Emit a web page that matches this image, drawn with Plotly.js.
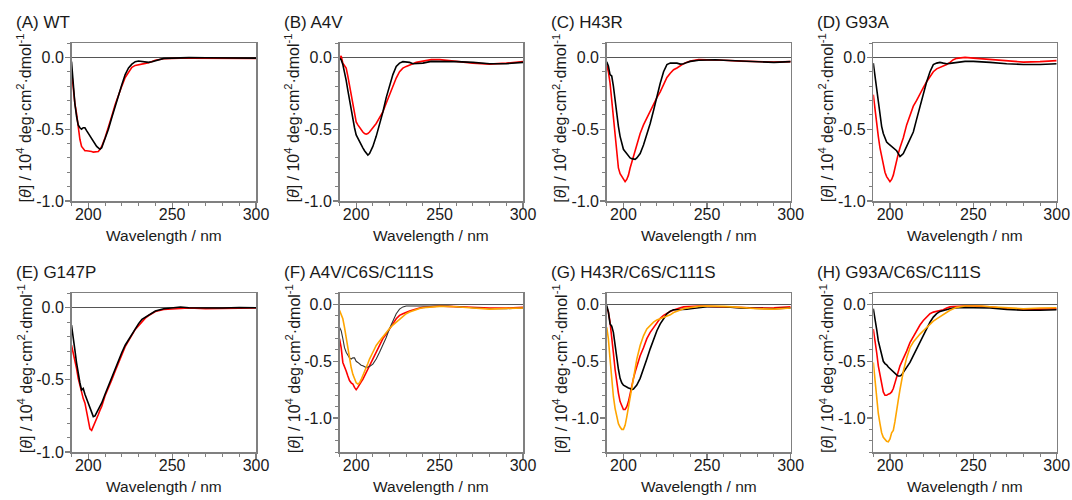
<!DOCTYPE html>
<html>
<head>
<meta charset="utf-8">
<script src="https://cdn.plot.ly/plotly-3.0.1.min.js"></script>
<style>html,body{margin:0;padding:0;background:#fff;}#chart{width:1072px;height:500px;}</style>
</head>
<body>
<div id="chart"></div>
<script>
// ---------- data ----------
const wavelength = [190,191,192,193,194,195,196,197,198,199,200,201,202,203,204,205,206,207,208,210,212,214,216,218,220,222,224,226,228,230,232,234,236,238,240,245,250,255,260,270,280,290,300];

const panelTitles = ["(A) WT","(B) A4V","(C) H43R","(D) G93A","(E) G147P","(F) A4V/C6S/C111S","(G) H43R/C6S/C111S","(H) G93A/C6S/C111S"];
const xTickVals = [200,250,300];
const xTickText = ["200","250","300"];
const yTickVals = [-1.0,-0.5,0.0];
const yTickText = ["-1.0","-0.5","0.0"];

const wtBlack = [-0.03,-0.2,-0.32,-0.41,-0.47,-0.49,-0.5,-0.49,-0.49,-0.51,-0.53,-0.55,-0.57,-0.59,-0.61,-0.62,-0.63,-0.64,-0.63,-0.57,-0.5,-0.42,-0.34,-0.26,-0.19,-0.12,-0.074,-0.047,-0.03,-0.025,-0.03,-0.033,-0.035,-0.03,-0.023,-0.007,-0.005,-0.003,-0.002,-0.003,-0.002,-0.003,-0.005];
const wtRed = [-0.09,-0.23,-0.32,-0.39,-0.5,-0.57,-0.62,-0.64,-0.65,-0.65,-0.65,-0.655,-0.655,-0.66,-0.66,-0.66,-0.655,-0.64,-0.62,-0.56,-0.49,-0.41,-0.33,-0.26,-0.2,-0.14,-0.1,-0.07,-0.056,-0.05,-0.047,-0.042,-0.038,-0.03,-0.02,-0.01,-0.005,-0.005,-0.005,-0.006,-0.006,-0.007,-0.008];

const a4vBlack = [-0.005,-0.016,-0.05,-0.1,-0.16,-0.23,-0.3,-0.37,-0.43,-0.49,-0.54,-0.565,-0.59,-0.61,-0.63,-0.65,-0.67,-0.68,-0.67,-0.62,-0.55,-0.47,-0.38,-0.28,-0.2,-0.12,-0.063,-0.04,-0.03,-0.03,-0.035,-0.044,-0.044,-0.042,-0.04,-0.028,-0.028,-0.029,-0.03,-0.035,-0.044,-0.044,-0.035];
const a4vRed = [-0.016,0.01,-0.04,-0.063,-0.075,-0.13,-0.2,-0.27,-0.34,-0.4,-0.45,-0.47,-0.49,-0.505,-0.52,-0.53,-0.535,-0.53,-0.52,-0.49,-0.46,-0.42,-0.38,-0.32,-0.26,-0.19,-0.144,-0.1,-0.075,-0.063,-0.056,-0.044,-0.035,-0.03,-0.028,-0.016,-0.016,-0.02,-0.028,-0.04,-0.047,-0.04,-0.03];

const h43rBlack = [-0.03,-0.06,-0.12,-0.13,-0.2,-0.3,-0.39,-0.48,-0.55,-0.6,-0.64,-0.655,-0.67,-0.685,-0.7,-0.705,-0.71,-0.71,-0.7,-0.67,-0.61,-0.54,-0.46,-0.37,-0.27,-0.18,-0.1,-0.05,-0.04,-0.04,-0.04,-0.047,-0.045,-0.035,-0.028,-0.02,-0.016,-0.017,-0.02,-0.026,-0.033,-0.035,-0.03];
const h43rRed = [-0.05,-0.1,-0.18,-0.3,-0.43,-0.57,-0.69,-0.77,-0.81,-0.83,-0.85,-0.865,-0.85,-0.82,-0.77,-0.73,-0.68,-0.64,-0.6,-0.53,-0.47,-0.42,-0.38,-0.33,-0.28,-0.24,-0.19,-0.14,-0.11,-0.086,-0.074,-0.058,-0.044,-0.034,-0.026,-0.016,-0.016,-0.017,-0.02,-0.026,-0.03,-0.033,-0.03];

const g93aBlack = [-0.04,-0.13,-0.25,-0.34,-0.41,-0.48,-0.53,-0.56,-0.59,-0.6,-0.61,-0.62,-0.63,-0.64,-0.65,-0.67,-0.69,-0.68,-0.67,-0.62,-0.57,-0.52,-0.43,-0.34,-0.25,-0.17,-0.1,-0.05,-0.04,-0.035,-0.04,-0.044,-0.042,-0.038,-0.035,-0.028,-0.028,-0.03,-0.035,-0.044,-0.05,-0.05,-0.044];
const g93aRed = [-0.26,-0.37,-0.46,-0.55,-0.63,-0.69,-0.74,-0.8,-0.83,-0.85,-0.865,-0.85,-0.82,-0.77,-0.71,-0.67,-0.63,-0.6,-0.56,-0.47,-0.4,-0.34,-0.3,-0.25,-0.21,-0.17,-0.13,-0.1,-0.08,-0.07,-0.063,-0.05,-0.035,-0.016,-0.007,0.0,-0.005,-0.01,-0.016,-0.028,-0.033,-0.03,-0.023];

const g147pBlack = [-0.12,-0.19,-0.29,-0.38,-0.47,-0.52,-0.57,-0.56,-0.6,-0.63,-0.66,-0.7,-0.73,-0.755,-0.75,-0.73,-0.71,-0.685,-0.66,-0.6,-0.54,-0.49,-0.43,-0.37,-0.31,-0.26,-0.22,-0.18,-0.15,-0.11,-0.08,-0.065,-0.05,-0.035,-0.023,-0.007,-0.002,0.005,0.0,-0.002,-0.002,0.002,0.0];
const g147pRed = [-0.26,-0.31,-0.36,-0.42,-0.49,-0.54,-0.59,-0.63,-0.66,-0.72,-0.78,-0.84,-0.85,-0.825,-0.8,-0.77,-0.74,-0.71,-0.685,-0.61,-0.56,-0.5,-0.44,-0.38,-0.32,-0.27,-0.23,-0.19,-0.15,-0.124,-0.096,-0.072,-0.054,-0.037,-0.026,-0.012,-0.007,-0.003,-0.002,-0.007,-0.007,-0.003,-0.002];

const a4vCSBlack = [-0.2,-0.23,-0.3,-0.38,-0.42,-0.45,-0.47,-0.48,-0.47,-0.47,-0.5,-0.51,-0.525,-0.535,-0.54,-0.55,-0.555,-0.55,-0.545,-0.525,-0.48,-0.42,-0.36,-0.29,-0.21,-0.14,-0.08,-0.04,-0.02,-0.012,-0.012,-0.012,-0.012,-0.012,-0.012,-0.012,-0.006,-0.012,-0.018,-0.027,-0.036,-0.036,-0.03];
const a4vCSRed = [-0.3,-0.38,-0.51,-0.54,-0.585,-0.63,-0.67,-0.69,-0.7,-0.73,-0.75,-0.73,-0.7,-0.68,-0.66,-0.63,-0.6,-0.57,-0.54,-0.48,-0.42,-0.36,-0.3,-0.26,-0.21,-0.17,-0.125,-0.095,-0.08,-0.065,-0.056,-0.047,-0.036,-0.03,-0.024,-0.015,-0.012,-0.015,-0.018,-0.027,-0.03,-0.03,-0.024];
const a4vCSOrange = [-0.05,-0.095,-0.125,-0.2,-0.3,-0.39,-0.48,-0.555,-0.615,-0.66,-0.69,-0.7,-0.69,-0.66,-0.63,-0.595,-0.555,-0.52,-0.48,-0.42,-0.36,-0.32,-0.28,-0.24,-0.21,-0.18,-0.155,-0.125,-0.1,-0.08,-0.065,-0.053,-0.042,-0.034,-0.027,-0.018,-0.015,-0.016,-0.018,-0.03,-0.04,-0.033,-0.03];

const h43rCSBlack = [-0.006,-0.065,-0.17,-0.19,-0.245,-0.36,-0.48,-0.57,-0.65,-0.69,-0.71,-0.72,-0.73,-0.735,-0.74,-0.75,-0.745,-0.73,-0.71,-0.65,-0.57,-0.48,-0.39,-0.3,-0.23,-0.17,-0.125,-0.08,-0.057,-0.045,-0.045,-0.045,-0.042,-0.04,-0.036,-0.024,-0.018,-0.018,-0.018,-0.03,-0.036,-0.036,-0.03];
const h43rCSRed = [-0.02,-0.065,-0.155,-0.275,-0.425,-0.57,-0.69,-0.78,-0.855,-0.9,-0.925,-0.925,-0.9,-0.855,-0.78,-0.71,-0.65,-0.595,-0.54,-0.45,-0.38,-0.3,-0.245,-0.2,-0.155,-0.12,-0.095,-0.075,-0.06,-0.048,-0.036,-0.027,-0.02,-0.017,-0.015,-0.012,-0.015,-0.017,-0.02,-0.027,-0.03,-0.027,-0.02];
const h43rCSOrange = [-0.2,-0.3,-0.48,-0.66,-0.81,-0.915,-0.99,-1.05,-1.08,-1.1,-1.1,-1.065,-0.99,-0.9,-0.81,-0.72,-0.63,-0.55,-0.48,-0.36,-0.275,-0.215,-0.18,-0.155,-0.135,-0.125,-0.115,-0.105,-0.09,-0.07,-0.057,-0.045,-0.036,-0.03,-0.024,-0.015,-0.012,-0.013,-0.015,-0.024,-0.036,-0.04,-0.03];

const g93aCSBlack = [-0.036,-0.11,-0.215,-0.32,-0.39,-0.45,-0.5,-0.52,-0.53,-0.55,-0.565,-0.578,-0.59,-0.605,-0.62,-0.63,-0.63,-0.62,-0.6,-0.56,-0.51,-0.45,-0.39,-0.335,-0.275,-0.215,-0.155,-0.11,-0.08,-0.06,-0.05,-0.045,-0.036,-0.03,-0.027,-0.024,-0.027,-0.028,-0.03,-0.042,-0.05,-0.05,-0.045];
const g93aCSRed = [-0.215,-0.3,-0.42,-0.54,-0.63,-0.71,-0.77,-0.8,-0.8,-0.79,-0.785,-0.77,-0.74,-0.69,-0.63,-0.59,-0.54,-0.51,-0.485,-0.41,-0.335,-0.28,-0.23,-0.18,-0.14,-0.105,-0.08,-0.066,-0.06,-0.054,-0.045,-0.03,-0.02,-0.017,-0.015,-0.012,-0.012,-0.015,-0.02,-0.036,-0.042,-0.04,-0.036];
const g93aCSOrange = [-0.51,-0.66,-0.84,-0.96,-1.05,-1.13,-1.17,-1.19,-1.205,-1.21,-1.185,-1.13,-1.11,-1.03,-0.95,-0.84,-0.75,-0.66,-0.59,-0.47,-0.38,-0.33,-0.29,-0.26,-0.23,-0.2,-0.17,-0.146,-0.125,-0.105,-0.084,-0.066,-0.05,-0.036,-0.024,-0.012,-0.009,-0.012,-0.018,-0.03,-0.036,-0.03,-0.027];

const yRanges = [[-1.0,0.1],[-1.0,0.1],[-1.0,0.1],[-1.0,0.1],[-1.0,0.1],[-1.3,0.1],[-1.3,0.1],[-1.3,0.1]];

const panelSeries = [
  {red: wtRed, black: wtBlack},
  {red: a4vRed, black: a4vBlack},
  {red: h43rRed, black: h43rBlack},
  {red: g93aRed, black: g93aBlack},
  {red: g147pRed, black: g147pBlack},
  {red: a4vCSRed, black: a4vCSBlack, orange: a4vCSOrange, thinBlack: true},
  {red: h43rCSRed, black: h43rCSBlack, orange: h43rCSOrange},
  {red: g93aCSRed, black: g93aCSBlack, orange: g93aCSOrange}
];

// ---------- layout geometry (pixels) ----------
const W = 1072, H = 500;
const colPx = [[71.5,256],[339.5,523],[606.7,790.7],[873.3,1056.7]];
const rowPx = [[43,201],[293.3,452]];

const yTitle = "[<i>θ</i>] / 10<sup>4</sup> deg·cm<sup>2</sup>·dmol<sup>-1</sup>";
const axisGray = "#808080";

const traces = [];
const layout = {
  width: W, height: H,
  margin: {l:0, r:0, t:0, b:0},
  paper_bgcolor: "#ffffff", plot_bgcolor: "#ffffff",
  showlegend: false,
  font: {family: "Liberation Sans, Arial, sans-serif", size: 15, color: "#1a1a1a"},
  annotations: []
};

for (let i = 0; i < 8; i++) {
  const n = i + 1;
  const xs = n === 1 ? "x" : "x" + n;
  const ys = n === 1 ? "y" : "y" + n;
  const col = colPx[i % 4], row = rowPx[Math.floor(i / 4)];
  const s = panelSeries[i];

  traces.push({x: wavelength, y: s.red, xaxis: xs, yaxis: ys, mode: "lines",
    line: {color: "#ff0000", width: 1.6}, hoverinfo: "skip"});
  traces.push({x: wavelength, y: s.black, xaxis: xs, yaxis: ys, mode: "lines",
    line: {color: s.thinBlack ? "#333333" : "#000000", width: s.thinBlack ? 1.1 : 1.6}, hoverinfo: "skip"});
  if (s.orange) {
    traces.push({x: wavelength, y: s.orange, xaxis: xs, yaxis: ys, mode: "lines",
      line: {color: "#ffa500", width: 1.6}, hoverinfo: "skip"});
  }

  layout["xaxis" + (n === 1 ? "" : n)] = {
    domain: [col[0] / W, col[1] / W], anchor: ys,
    range: [190, 300], tickmode: "array", tickvals: xTickVals, ticktext: xTickText,
    ticks: "outside", ticklen: 5, tickwidth: 1.2, tickcolor: axisGray,
    minor: {tickmode: "linear", tick0: 190, dtick: 10, ticks: "outside", ticklen: 3, tickwidth: 1, tickcolor: axisGray},
    showline: true, linecolor: axisGray, linewidth: 1.5, mirror: true,
    showgrid: false, zeroline: false, tickfont: {size: 16}, ticklabelstandoff: -7, fixedrange: true
  };
  layout["yaxis" + (n === 1 ? "" : n)] = {
    domain: [1 - row[1] / H, 1 - row[0] / H], anchor: xs,
    range: yRanges[i], tickmode: "array", tickvals: yTickVals, ticktext: yTickText,
    ticks: "outside", ticklen: 5, tickwidth: 1.2, tickcolor: axisGray,
    minor: {tickmode: "linear", tick0: 0, dtick: 0.1, ticks: "outside", ticklen: 3, tickwidth: 1, tickcolor: axisGray},
    showline: true, linecolor: axisGray, linewidth: 1.5, mirror: true,
    showgrid: false, zeroline: true, zerolinecolor: "#555555", zerolinewidth: 1.5,
    tickfont: {size: 16}, ticklabelstandoff: -2, fixedrange: true
  };

  const xd = xs + " domain", yd = ys + " domain";
  layout.annotations.push({text: panelTitles[i], xref: xd, yref: yd, x: 0, y: 1,
    xanchor: "left", yanchor: "bottom", xshift: -58, yshift: 9, showarrow: false, font: {size: 17}});
  layout.annotations.push({text: "Wavelength / nm", xref: xd, yref: yd, x: 0.5, y: 0,
    xanchor: "center", yanchor: "top", yshift: -24, showarrow: false, font: {size: 15.5}});
  layout.annotations.push({text: yTitle, xref: xd, yref: yd, x: 0, y: 0.5, textangle: -90,
    xanchor: "center", yanchor: "middle", xshift: -47, yshift: 4, showarrow: false, font: {size: 16}});
}

Plotly.newPlot("chart", traces, layout, {staticPlot: true, displayModeBar: false});
</script>
</body>
</html>
